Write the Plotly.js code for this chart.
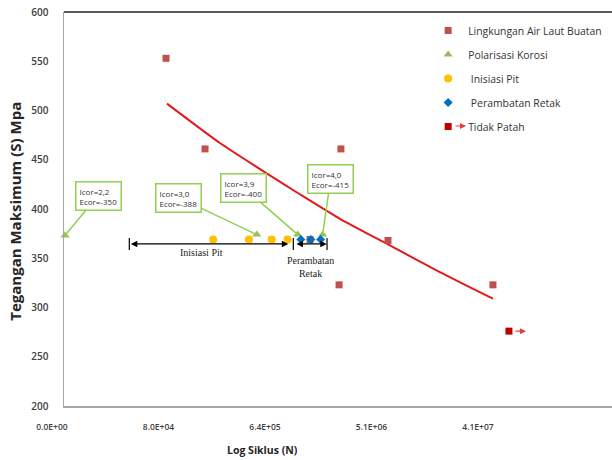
<!DOCTYPE html>
<html>
<head>
<meta charset="utf-8">
<script src="https://cdn.plot.ly/plotly-3.0.1.min.js"></script>
<style>html,body{margin:0;padding:0;background:#fff;}#chart{width:612px;height:460px;}</style>
</head>
<body>
<div id="chart"></div>
<script>
// ---- data ----
var lingN = [7.33e4, 1.57e5, 2.23e6, 5.59e6, 2.15e6, 4.34e7, 1.22e6];
var lingS = [553, 461, 461, 368, 323, 323, 369];

var trendN = [7.47e4, 2.10e5, 5.27e5, 1.00e6, 2.19e6, 5.59e6, 1.54e7, 4.34e7];
var trendS = [507, 467, 436, 415, 390, 364, 336, 309];

var polN = [1.02e4, 4.31e5, 9.59e5, 1.56e6];
var polS = [373, 374, 374, 374];
var polLabels = ["Icor=2,2<br>Ecor=-350", "Icor=3,0<br>Ecor=-388", "Icor=3,9<br>Ecor=-400", "Icor=4,0<br>Ecor=-415"];

var pitN = [1.84e5, 3.70e5, 5.77e5, 7.86e5];
var pitS = [369, 369, 369, 369];

var retN = [1.02e6, 1.24e6, 1.50e6];
var retS = [369, 369, 369];

var tpN = [5.93e7];
var tpS = [276];

var xTickVals = [1e4, 8e4, 6.4e5, 5.12e6, 4.096e7];
var xTickText = ["0.0E+00", "8.0E+04", "6.4E+05", "5.1E+06", "4.1E+07"];
var yTickVals = [200, 250, 300, 350, 400, 450, 500, 550, 600];

// phase spans (start, end) of the double arrows
var pitSpan = [3.58e4, 7.98e5];
var retSpan = [9.09e5, 1.69e6];
var spanBars = [3.58e4, 8.8e5, 1.70e6];
var spanY = 364.5;

var legendNames = ["Lingkungan Air Laut Buatan", "Polarisasi Korosi", "\u00a0Inisiasi Pit", "\u00a0Perambatan Retak", "Tidak Patah"];

var traces = [
  {x: trendN, y: trendS, mode: 'lines', line: {color: '#E31A1C', width: 2, shape: 'spline', smoothing: 0.6}, showlegend: false, hoverinfo: 'skip'},
  {x: lingN, y: lingS, mode: 'markers', name: legendNames[0], legendgroup: 'a', cliponaxis: false,
   marker: {symbol: 'square', size: 7, color: '#C0504D'}},
  {x: polN, y: polS, mode: 'markers', name: legendNames[1], legendgroup: 'b', cliponaxis: false,
   marker: {symbol: 'triangle-up', size: 8, color: '#9BBB59'}},
  {x: pitN, y: pitS, mode: 'markers', name: legendNames[2], legendgroup: 'c', cliponaxis: false,
   marker: {symbol: 'circle', size: 8, color: '#FFC000'}},
  {x: retN, y: retS, mode: 'markers', name: legendNames[3], legendgroup: 'd', cliponaxis: false,
   marker: {symbol: 'diamond', size: 7, color: '#0070C0'}},
  {x: tpN, y: tpS, mode: 'markers', name: legendNames[4], legendgroup: 'e', cliponaxis: false,
   marker: {symbol: 'square', size: 7, color: '#C00000'}}
];

var callOffsets = [[33, -40], [-78, -37], [-54, -47], [8, -56]];
var annotations = [];
polN.forEach(function(n, i) {
  annotations.push({
    x: Math.log10(n), y: polS[i], xref: 'x', yref: 'y',
    text: polLabels[i], align: 'left', showarrow: true,
    ax: callOffsets[i][0], ay: callOffsets[i][1],
    arrowhead: 0, arrowwidth: 1.5, arrowcolor: '#92D050',
    bordercolor: '#92D050', borderwidth: 1.5, borderpad: 3, bgcolor: '#ffffff',
    font: {family: 'Open Sans, sans-serif', size: 8, color: '#333333'}
  });
});
[pitSpan, retSpan].forEach(function(sp) {
  annotations.push({
    x: Math.log10(sp[1]), y: spanY, ax: Math.log10(sp[0]), ay: spanY,
    xref: 'x', yref: 'y', axref: 'x', ayref: 'y', text: '', showarrow: true,
    arrowside: 'end+start', arrowhead: 2, startarrowhead: 2, arrowsize: 1, startarrowsize: 1,
    arrowwidth: 1.3, arrowcolor: '#000000'
  });
});
annotations.push({
  x: Math.log10(Math.sqrt(pitSpan[0] * pitSpan[1])) - 0.06, y: spanY, xref: 'x', yref: 'y',
  text: 'Inisiasi Pit', showarrow: false, yshift: -9,
  font: {family: 'Liberation Serif, serif', size: 10, color: '#222222'}
});
annotations.push({
  x: Math.log10(Math.sqrt(retSpan[0] * retSpan[1])), y: spanY, xref: 'x', yref: 'y',
  text: 'Perambatan<br>Retak', showarrow: false, yshift: -23,
  font: {family: 'Liberation Serif, serif', size: 10, color: '#222222'}
});
// arrow of the non-failed specimen
annotations.push({
  x: Math.log10(tpN[0]), y: tpS[0], xref: 'x', yref: 'y', text: '', showarrow: true,
  xshift: 17, ax: -12, ay: 0, arrowhead: 2, arrowsize: 1, arrowwidth: 1.2, arrowcolor: '#E04040'
});
// axis titles
annotations.push({
  x: -0.0894, y: 0.493, xref: 'paper', yref: 'paper', xanchor: 'center', yanchor: 'middle',
  text: 'Tegangan Maksimum (S) Mpa', textangle: -90, showarrow: false,
  font: {family: 'Open Sans, sans-serif', size: 15, weight: 'bold', color: '#262626'}
});
annotations.push({
  x: 0.3622, y: -0.1117, xref: 'paper', yref: 'paper', xanchor: 'center', yanchor: 'middle',
  text: 'Log Siklus (N)', showarrow: false,
  font: {family: 'Open Sans, sans-serif', size: 10.5, weight: 'bold', color: '#262626'}
});
// legend arrow for "Tidak Patah"
annotations.push({
  x: 0.7336, y: 0.7107, xref: 'paper', yref: 'paper', text: '', showarrow: true,
  ax: -12, ay: 0, arrowhead: 2, arrowsize: 1, arrowwidth: 1.2, arrowcolor: '#E04040'
});

var shapes = spanBars.map(function(b) {
  return {type: 'line', xref: 'x', yref: 'y', x0: b, x1: b, y0: spanY - 6, y1: spanY + 6,
          line: {color: '#000000', width: 1.2}};
});
shapes.push({type: 'line', xref: 'paper', yref: 'paper', x0: 0, x1: 1, y0: 1, y1: 1,
             line: {color: '#595959', width: 2}});

var layout = {
  width: 612, height: 460,
  margin: {l: 64, r: 0, t: 12, b: 54, pad: 0},
  paper_bgcolor: '#ffffff', plot_bgcolor: '#ffffff',
  font: {family: 'Open Sans, sans-serif', color: '#404040'},
  xaxis: {
    type: 'log', range: [4, 8.647], tickmode: 'array', tickvals: xTickVals, ticktext: xTickText,
    showgrid: false, zeroline: false, showline: true, linecolor: '#A6A6A6', linewidth: 1.5,
    ticks: '', ticklabelstandoff: 12, ticklabelshift: -12,
    tickfont: {family: 'Open Sans, sans-serif', size: 8.5, weight: 600, color: '#404040'}
  },
  yaxis: {
    range: [200, 600], tickmode: 'array', tickvals: yTickVals,
    showgrid: false, zeroline: false, showline: true, linecolor: '#A6A6A6', linewidth: 1.5,
    ticks: '', ticklabelstandoff: 12,
    tickfont: {family: 'Open Sans, sans-serif', size: 10, weight: 600, color: '#404040'}
  },
  showlegend: true,
  legend: {
    x: 0.6645, y: 0.99, xanchor: 'left', yanchor: 'top', traceorder: 'grouped', tracegroupgap: 5,
    bgcolor: 'rgba(0,0,0,0)', borderwidth: 0,
    font: {family: 'Open Sans, sans-serif', size: 10.4, color: '#333333'}
  },
  annotations: annotations,
  shapes: shapes
};

Plotly.newPlot('chart', traces, layout, {displayModeBar: false, staticPlot: true});
</script>
</body>
</html>
